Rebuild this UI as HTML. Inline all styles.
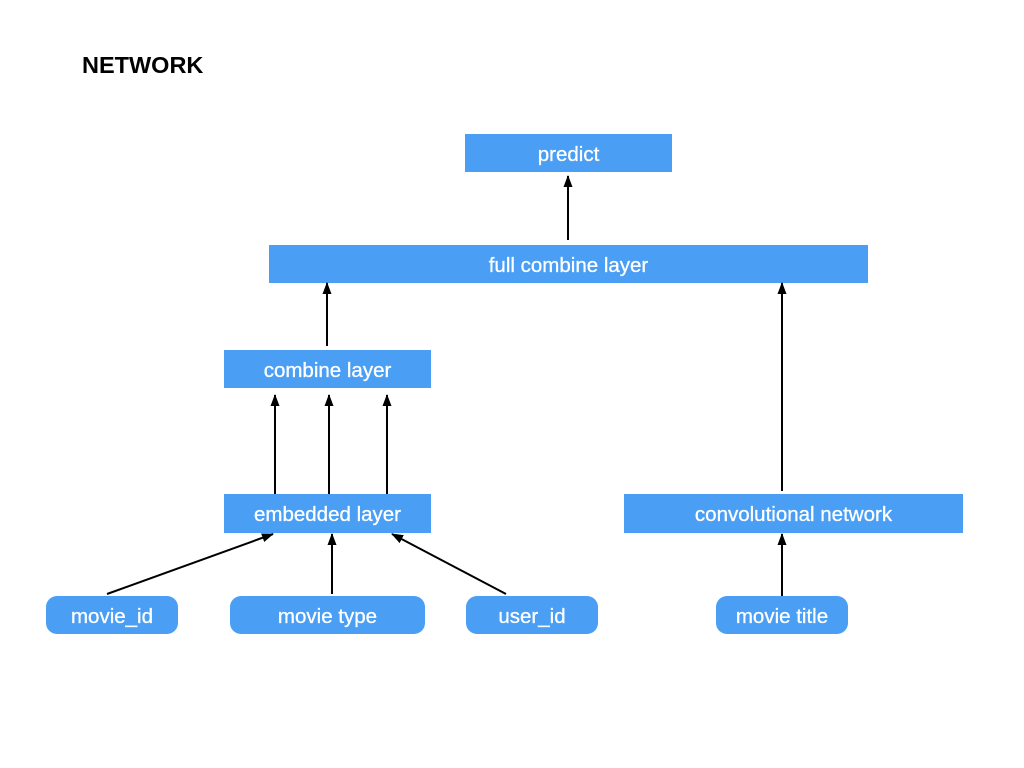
<!DOCTYPE html>
<html><head><style>
body{margin:0;width:1024px;height:768px;background:#fff;position:relative;font-family:"Liberation Sans",sans-serif;overflow:hidden}
.b{position:absolute;background:#4a9ff5;color:#fff;font-size:20.5px;display:flex;align-items:center;justify-content:center;padding-top:3px;box-sizing:border-box;-webkit-text-stroke:0.3px #fff}
.r{border-radius:11px}
h1{position:absolute;left:82px;top:52px;margin:0;font-size:23.5px;font-weight:bold}
svg{position:absolute;left:0;top:0}
</style></head><body>
<h1>NETWORK</h1>
<div class="b" style="left:465px;top:134px;width:207px;height:38px">predict</div>
<div class="b" style="left:269px;top:245px;width:599px;height:38px">full combine layer</div>
<div class="b" style="left:224px;top:350px;width:207px;height:38px">combine layer</div>
<div class="b" style="left:224px;top:494px;width:207px;height:39px">embedded layer</div>
<div class="b" style="left:624px;top:494px;width:339px;height:39px">convolutional network</div>
<div class="b r" style="left:46px;top:596px;width:132px;height:38px">movie_id</div>
<div class="b r" style="left:230px;top:596px;width:195px;height:38px">movie type</div>
<div class="b r" style="left:466px;top:596px;width:132px;height:38px">user_id</div>
<div class="b r" style="left:716px;top:596px;width:132px;height:38px">movie title</div>
<svg width="1024" height="768">
<defs><marker id="a" markerWidth="12" markerHeight="12" refX="11" refY="6" orient="auto" markerUnits="userSpaceOnUse"><path d="M0,1.5 L12,6 L0,10.5 z" fill="#000"/></marker></defs>
<g stroke="#000" stroke-width="2" marker-end="url(#a)">
<line x1="568" y1="240" x2="568" y2="176"/>
<line x1="327" y1="346" x2="327" y2="283"/>
<line x1="782" y1="491" x2="782" y2="283"/>
<line x1="275" y1="494" x2="275" y2="395"/>
<line x1="329" y1="494" x2="329" y2="395"/>
<line x1="387" y1="494" x2="387" y2="395"/>
<line x1="107" y1="594" x2="273" y2="534"/>
<line x1="332" y1="594" x2="332" y2="534"/>
<line x1="506" y1="594" x2="392" y2="534"/>
<line x1="782" y1="596" x2="782" y2="534"/>
</g></svg>
</body></html>
